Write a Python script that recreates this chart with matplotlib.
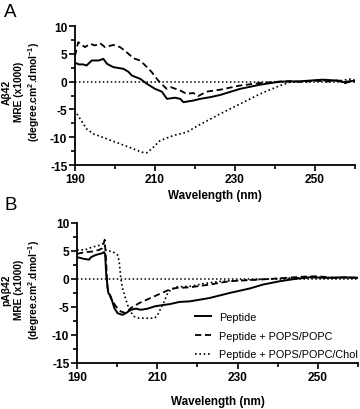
import matplotlib
matplotlib.use("Agg")
import matplotlib.pyplot as plt

plt.rcParams["font.family"] = ["Liberation Sans", "DejaVu Sans"]
plt.rcParams["mathtext.fontset"] = "custom"
plt.rcParams["mathtext.rm"] = "Liberation Sans:bold"
plt.rcParams["mathtext.bf"] = "Liberation Sans:bold"
plt.rcParams["axes.unicode_minus"] = False

# panel A - Abeta42
wl_a_pep = [190, 191, 192, 192.9, 194.2, 196, 197.1, 198, 199.6, 202.1, 203.3, 204.2, 206.3, 208,
            210, 211.7, 213, 215, 216.3, 217.1, 219.6, 221.3, 223.8, 226.3, 231.3, 236.3, 241.3,
            246, 252, 256.3, 257, 259.6, 260]
mre_a_pep = [3.4, 3.1, 3.1, 2.9, 3.8, 3.8, 4.1, 3.2, 2.6, 2.3, 1.8, 1.1, 0.5, -0.4,
             -1.3, -1.8, -3.1, -2.9, -3.1, -3.7, -3.4, -3.1, -2.8, -2.4, -1.3, -0.55, 0.0,
             0.05, 0.35, 0.15, -0.1, 0.15, 0.1]

wl_a_pc = [190, 190.8, 192.5, 193.8, 195, 196.3, 197.5, 199.6, 201.3, 202.9, 204.6, 206.3, 208,
           209.2, 210.8, 212.9, 214, 216.3, 217.9, 219.6, 220.8, 222.9, 226.3, 231.3, 236.3,
           241.3, 244, 247, 250, 253, 255.5, 257.5, 259, 260]
mre_a_pc = [4.6, 7.1, 6.2, 6.8, 6.5, 6.9, 6.2, 6.6, 6.2, 5.3, 4.2, 3.8, 2.6,
            1.7, 0.2, -1.3, -1.0, -1.6, -2.2, -2.05, -2.6, -1.8, -1.45, -0.7, -0.25,
            0.0, 0.1, -0.1, 0.2, 0.0, 0.2, -0.3, 0.1, 0.0]

wl_a_chol = [190.5, 192.9, 194.6, 198, 201.3, 204.6, 206.7, 208, 209.6, 211.3, 214.6, 217.9,
             221.3, 226.3, 231.3, 236.3, 241.3, 243.8, 248, 252, 256, 259, 260]
mre_a_chol = [-5.8, -8.5, -9.4, -10.3, -11.2, -12.1, -12.7, -12.8, -11.8, -10.6, -9.7, -9.1,
              -7.7, -5.8, -4.0, -2.2, -0.7, -0.1, 0.1, 0.2, 0.1, 0.5, 0.2]

# panel B - pAbeta42
wl_b_pep = [190, 191.7, 193, 193.5, 194.7, 196.3, 196.75, 197.0, 197.3, 197.8, 198.4, 199.3,
            200.1, 201.3, 202.2, 203.4, 204.7, 205.9, 207.6, 209.3, 210.9, 213, 215.5, 218,
            223, 228, 233, 236.3, 240.5, 244.7, 248, 252, 256, 260]
mre_b_pep = [3.9, 3.6, 3.45, 3.9, 4.3, 4.6, 4.8, 4.4, 0.5, -2.5, -3.1, -5.2,
             -6.1, -6.4, -6.1, -5.5, -5.3, -5.5, -5.3, -4.9, -4.7, -4.5, -4.1, -4.0,
             -3.4, -2.5, -1.7, -1.0, -0.4, 0.05, 0.3, 0.2, 0.3, 0.2]

wl_b_pc = [190, 192.2, 193.8, 195.5, 196.3, 196.9, 197.2, 197.6, 198.4, 199.7, 200.9, 202.2,
           203.4, 205.5, 208, 210.5, 213, 214.7, 218, 223, 228, 233, 238, 242, 246, 250,
           254, 257, 260]
mre_b_pc = [4.5, 4.8, 4.9, 5.2, 5.5, 7.0, 3.75, -1.6, -3.4, -4.9, -5.8, -6.1,
            -5.2, -4.3, -3.5, -2.7, -1.9, -1.6, -1.5, -1.0, -0.4, -0.2, 0.0, 0.2, 0.4, 0.5,
            0.2, 0.3, 0.2]

wl_b_chol = [190, 192, 193.8, 195.5, 196.75, 197.2, 198.8, 200.1, 200.5, 200.9, 201.3, 202.2,
             203, 204.25, 205.5, 207.6, 209.3, 210.1, 210.9, 211.75, 212.6, 213.4, 214.7,
             218.3, 221.7, 226, 232, 238, 244, 250, 255, 260]
mre_b_chol = [5.2, 5.2, 5.7, 6.0, 6.4, 5.1, 4.9, 4.3, 3.2, 0.2, -1.6, -3.7,
              -5.5, -6.7, -7.0, -7.0, -7.0, -6.4, -5.2, -4.0, -2.5, -1.9, -1.4,
              -1.3, -0.8, -0.4, -0.2, 0.0, 0.2, 0.3, 0.2, 0.3]

x_major = [190, 210, 230, 250]
x_minor = [200, 220, 240, 260]
y_major = [-15, -10, -5, 0, 5, 10]
y_minor = [-12.5, -7.5, -2.5, 2.5, 7.5]
legend_labels = ["Peptide", "Peptide + POPS/POPC", "Peptide + POPS/POPC/Chol"]

fig = plt.figure(figsize=(3.6, 4.1), dpi=100)
ax_a = fig.add_axes([0.2083, 0.5951, 0.7778, 0.339])
ax_b = fig.add_axes([0.2139, 0.1122, 0.7806, 0.3415])

dot = (0, (1, 1.6))
dash = (0, (3.5, 2))


def style(ax):
    ax.set_xlim(190, 260)
    ax.set_ylim(-15, 10)
    ax.set_xticks(x_major)
    ax.set_xticks(x_minor, minor=True)
    ax.set_yticks(y_major)
    ax.set_yticks(y_minor, minor=True)
    for s in ["top", "right"]:
        ax.spines[s].set_visible(False)
    for s in ["left", "bottom"]:
        ax.spines[s].set_linewidth(1.3)
    ax.tick_params(which="major", length=4, width=1.2, labelsize=8.6, pad=1.5)
    ax.tick_params(which="minor", length=3, width=1.2)
    for lab in ax.get_xticklabels() + ax.get_yticklabels():
        lab.set_fontweight("bold")
    ax.axhline(0, color="black", lw=1.1, ls=dot, zorder=1)


ax_a.plot(wl_a_pep, mre_a_pep, color="black", lw=1.4)
ax_a.plot(wl_a_pc, mre_a_pc, color="black", lw=1.3, ls=dash)
ax_a.plot(wl_a_chol, mre_a_chol, color="black", lw=1.2, ls=dot)
style(ax_a)
ax_a.set_xlabel("Wavelength (nm)", fontsize=8.4, fontweight="bold", labelpad=3)

l1, = ax_b.plot(wl_b_pep, mre_b_pep, color="black", lw=1.4)
l2, = ax_b.plot(wl_b_pc, mre_b_pc, color="black", lw=1.3, ls=dash)
l3, = ax_b.plot(wl_b_chol, mre_b_chol, color="black", lw=1.2, ls=dot)
style(ax_b)
ax_b.set_xlabel("Wavelength (nm)", fontsize=8.4, fontweight="bold", labelpad=9)

fig.legend([l1, l2, l3], legend_labels, loc="upper left",
           bbox_to_anchor=(195 / 360, 1 - 313 / 410), frameon=False, fontsize=7.8,
           handlelength=1.5, handletextpad=0.7, labelspacing=0.8,
           borderpad=0, borderaxespad=0)

ylab = "{}\nMRE (x1000)\n(degree.cm$^{{2}}$.dmol$^{{-1}}$)"
fig.text(22 / 360, 1 - 92 / 410, ylab.format("A\u03b242"), rotation=90, ha="center",
         va="center", multialignment="center", fontsize=7.4, fontweight="bold",
         linespacing=1.25)
fig.text(22 / 360, 1 - 290 / 410, ylab.format("pA\u03b242"), rotation=90, ha="center",
         va="center", multialignment="center", fontsize=7.4, fontweight="bold",
         linespacing=1.25)

fig.text(4 / 360, 1 - 4 / 410, "A", fontsize=13.5, ha="left", va="top")
fig.text(4 / 360, 1 - 197 / 410, "B", fontsize=13.5, ha="left", va="top")

fig.savefig("out.png", dpi=100)
